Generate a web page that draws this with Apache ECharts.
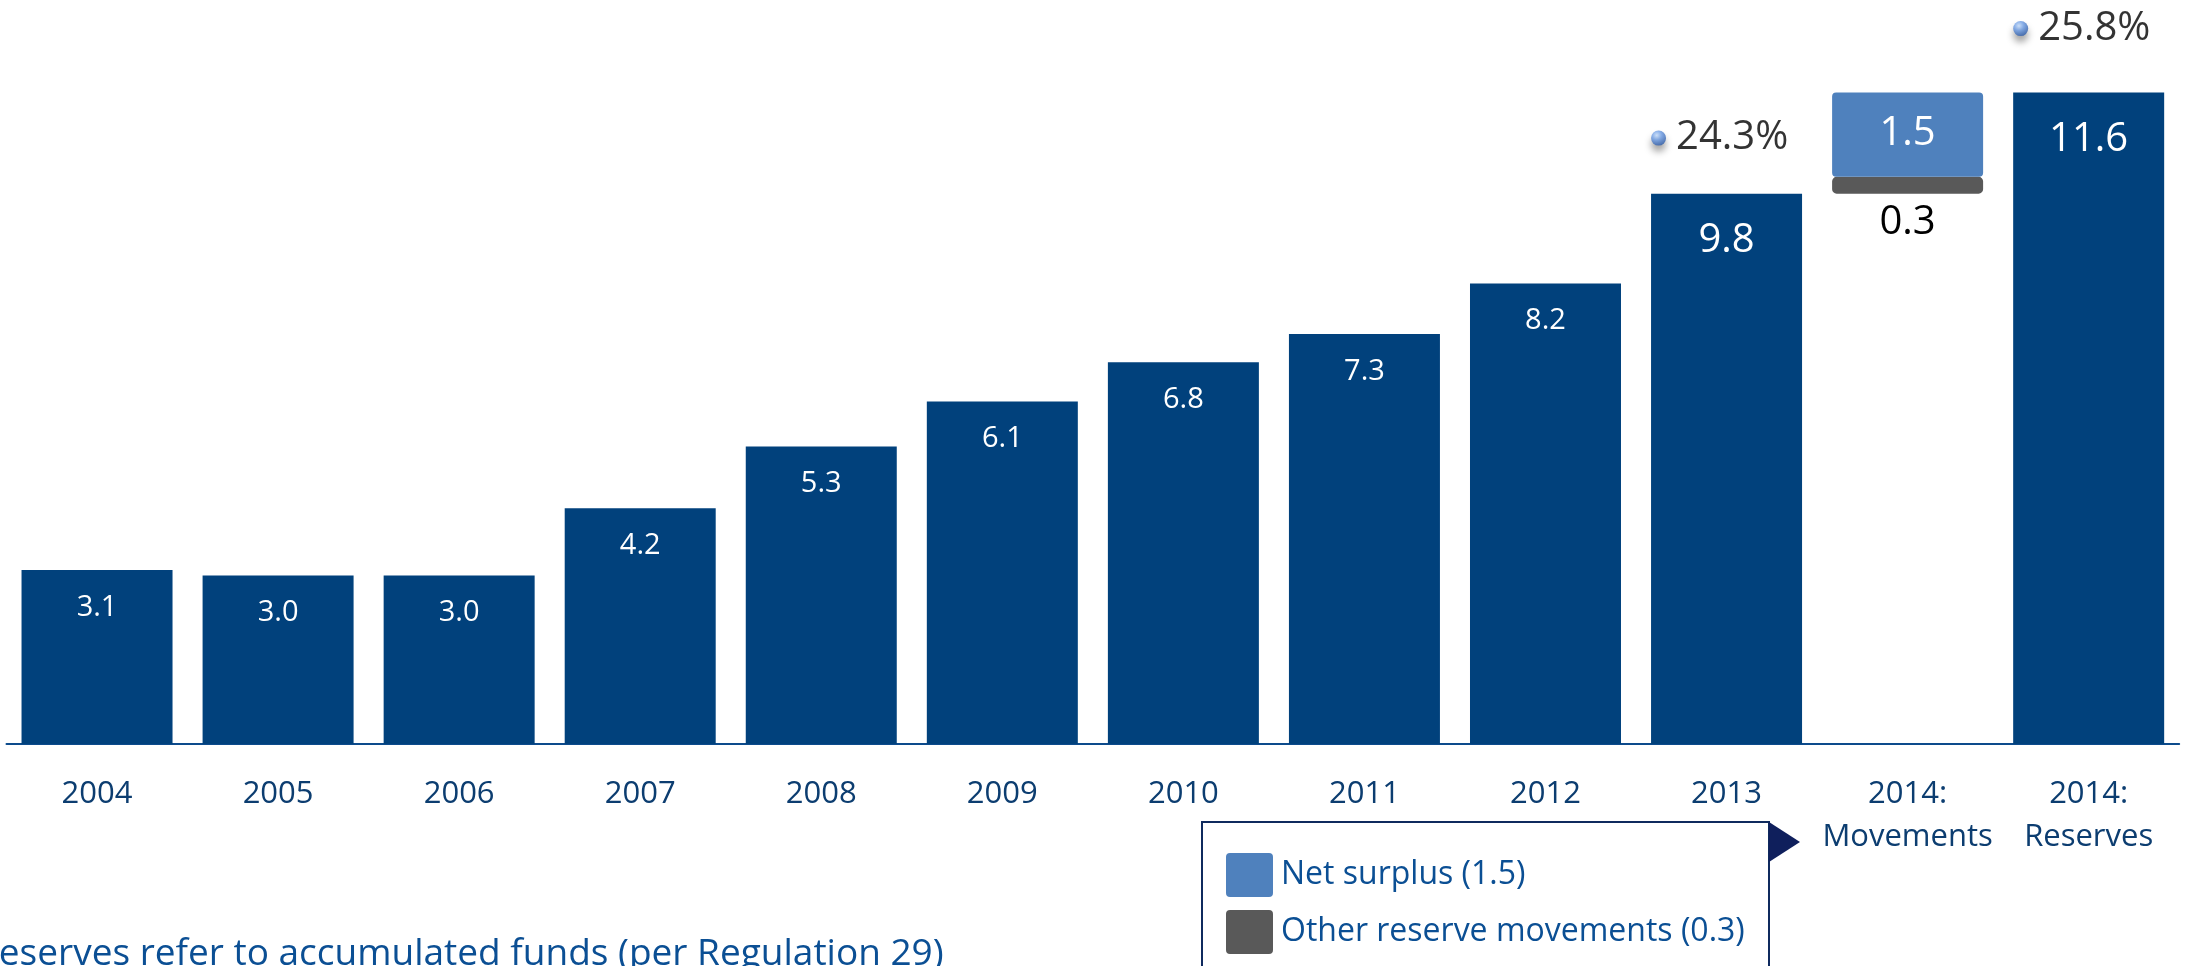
<!DOCTYPE html>
<html>
<head>
<meta charset="utf-8">
<script src="https://cdn.jsdelivr.net/npm/echarts@6/dist/echarts.min.js"></script>
<style>
  html, body { margin: 0; padding: 0; background: #ffffff; }
  #chart { width: 2190px; height: 966px; }
</style>
</head>
<body>
<div id="chart"></div>
<script>
// Reserves (EUR bn) by year, with the 2014 movements shown as a waterfall step
const categories = ['2004', '2005', '2006', '2007', '2008', '2009', '2010', '2011', '2012', '2013', '2014:\nMovements', '2014:\nReserves'];
const reserves = [3.1, 3.0, 3.0, 4.2, 5.3, 6.1, 6.8, 7.3, 8.2, 9.8, null, 11.6];
const netSurplus = 1.5;
const otherMovements = 0.3;
// Reserves as a share of the total (%)
const reserveRatio = [null, null, null, null, null, null, null, null, null, 24.3, null, 25.8];
const footnote = 'Reserves refer to accumulated funds (per Regulation 29)';

const FONT = '"Open Sans", "Noto Sans", sans-serif';
const NAVY = '#01417c';
const movIdx = categories.length - 2;
const prevReserves = reserves[movIdx - 1];

const surplusName = 'Net surplus (' + netSurplus.toFixed(1) + ')';
const otherName = 'Other reserve movements (' + otherMovements.toFixed(1) + ')';

// square legend swatch with slightly rounded corners
const SWATCH = 'path://M3,0 H42 Q45,0 45,3 V39 Q45,42 42,42 H3 Q0,42 0,39 V3 Q0,0 3,0 Z';

function onlyAt(idx, v) {
  return categories.map((_, i) => (i === idx ? v : '-'));
}

const reserveData = reserves.map((v, i) => {
  if (v == null) return '-';
  const big = i >= movIdx - 1;
  return {
    value: v,
    label: { fontSize: big ? 40 : 29, distance: big ? 27 : 23 }
  };
});

const chart = echarts.init(document.getElementById('chart'), null, { renderer: 'canvas' });

chart.setOption({
  animation: false,
  backgroundColor: '#ffffff',
  textStyle: { fontFamily: FONT },
  grid: { left: 6.5, right: 10.8, top: 14, bottom: 222, containLabel: false },
  legend: {
    orient: 'vertical',
    left: 1221,
    top: 848,
    itemWidth: 45,
    itemHeight: 42,
    itemGap: 13,
    icon: SWATCH,
    data: [surplusName, otherName],
    textStyle: { fontFamily: FONT, fontSize: 32, color: '#0b4f94', padding: [0, 0, 0, 4] }
  },
  xAxis: {
    type: 'category',
    data: categories,
    axisTick: { show: false },
    axisLine: { lineStyle: { color: '#0d4b8c', width: 2 } },
    axisLabel: {
      interval: 0,
      fontFamily: FONT,
      fontSize: 31,
      color: '#0c3d70',
      lineHeight: 43,
      margin: 29
    }
  },
  yAxis: [
    { type: 'value', min: 0, max: 13, show: false, splitLine: { show: false } },
    { type: 'value', min: 16, max: 26, show: false, splitLine: { show: false } }
  ],
  graphic: [
    {
      type: 'rect',
      shape: { x: 1202, y: 822, width: 567, height: 200 },
      style: { fill: 'none', stroke: '#0f2a5e', lineWidth: 2 },
      silent: true
    },
    {
      type: 'polygon',
      shape: { points: [[1769, 822], [1800, 842], [1769, 862]] },
      style: { fill: '#0f1f5c' },
      silent: true
    },
    {
      type: 'text',
      x: -24,
      y: 954,
      style: {
        text: footnote,
        font: '37px ' + FONT,
        fill: '#0b4f94',
        verticalAlign: 'middle',
        align: 'left'
      },
      silent: true
    }
  ],
  series: [
    {
      name: 'Reserves',
      type: 'bar',
      data: reserveData,
      barWidth: 151,
      barGap: '-100%',
      itemStyle: { color: NAVY },
      label: {
        show: true,
        position: 'insideTop',
        color: '#ffffff',
        fontFamily: FONT,
        formatter: (p) => p.value.toFixed(1)
      }
    },
    {
      name: 'base',
      type: 'bar',
      stack: 'move',
      barWidth: 151,
      data: onlyAt(movIdx, prevReserves),
      itemStyle: { color: 'rgba(0,0,0,0)' },
      silent: true
    },
    {
      name: otherName,
      type: 'bar',
      stack: 'move',
      barWidth: 151,
      data: onlyAt(movIdx, otherMovements),
      itemStyle: { color: '#595959', borderColor: '#595959', borderWidth: 3, borderRadius: 3 },
      label: {
        show: true,
        position: 'bottom',
        distance: 9,
        color: '#000000',
        fontFamily: FONT,
        fontSize: 40,
        formatter: (p) => p.value.toFixed(1)
      }
    },
    {
      name: surplusName,
      type: 'bar',
      stack: 'move',
      barWidth: 151,
      data: onlyAt(movIdx, netSurplus),
      itemStyle: { color: '#4f81bd', borderColor: '#4f81bd', borderWidth: 2, borderRadius: 3 },
      label: {
        show: true,
        position: 'insideTop',
        distance: 21,
        color: '#ffffff',
        fontFamily: FONT,
        fontSize: 40,
        formatter: (p) => p.value.toFixed(1)
      }
    },
    {
      name: 'Reserve ratio',
      type: 'scatter',
      yAxisIndex: 1,
      data: reserveRatio.map((v) => (v == null ? '-' : v)),
      symbol: 'circle',
      symbolSize: 15,
      symbolOffset: [-68, 0],
      itemStyle: {
        color: {
          type: 'radial', x: 0.38, y: 0.32, r: 0.7,
          colorStops: [
            { offset: 0, color: '#c4dcfb' },
            { offset: 0.45, color: '#6b9be4' },
            { offset: 1, color: '#2e5dab' }
          ]
        },
        shadowColor: 'rgba(0,0,0,0.45)',
        shadowBlur: 7,
        shadowOffsetY: 6
      },
      label: {
        show: true,
        position: 'right',
        distance: 10,
        color: '#000000',
        fontFamily: FONT,
        fontSize: 40,
        formatter: (p) => p.value.toFixed(1) + '%'
      }
    }
  ]
});
</script>
</body>
</html>
